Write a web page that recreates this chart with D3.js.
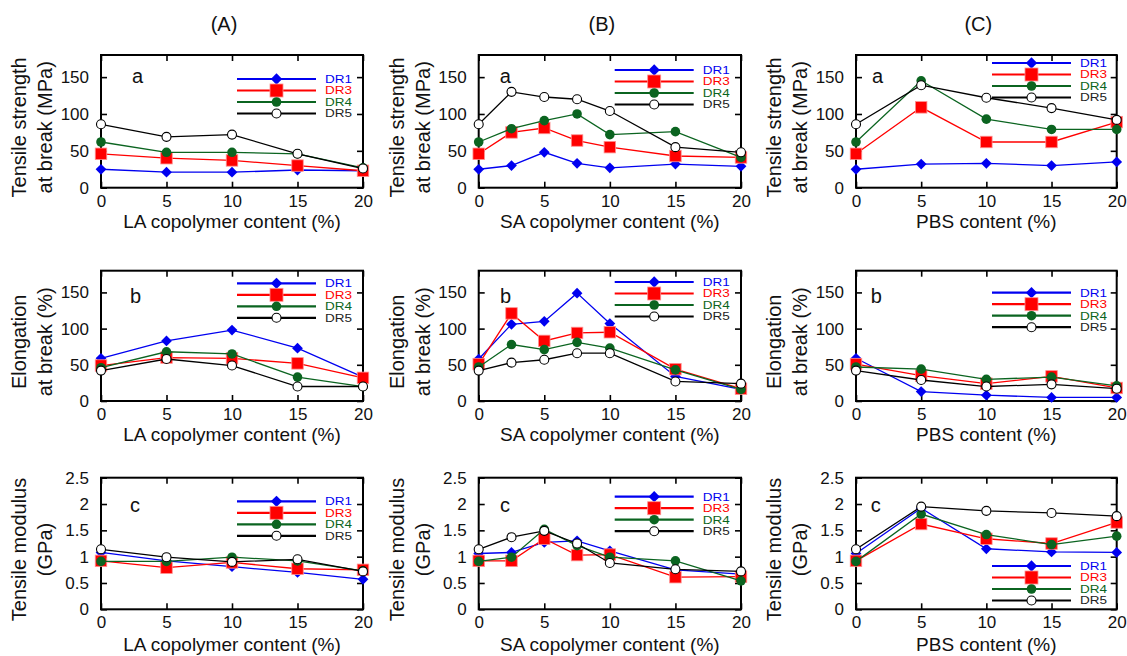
<!DOCTYPE html>
<html>
<head>
<meta charset="utf-8">
<script src="https://cdn.jsdelivr.net/npm/d3@7"></script>
<style>
  body { margin: 0; background: #fff; }
  svg { display: block; font-family: "Liberation Sans", Arial, Helvetica, sans-serif; }
</style>
</head>
<body>
<svg id="chart"></svg>
<script>
const width = 1127;
const height = 656;

// data
const seriesNames = ['DR1', 'DR3', 'DR4', 'DR5'];
const xLA = [0, 5, 10, 15, 20];
const xSA = [0, 2.5, 5, 7.5, 10, 15, 20];
const xPBS = [0, 5, 10, 15, 20];
const xTicks = [0, 5, 10, 15, 20];
const strengthTicks = [0, 50, 100, 150];
const elongTicks = [0, 50, 100, 150];
const modulusTicks = [0, 0.5, 1, 1.5, 2, 2.5];

const colTitles = ['(A)', '(B)', '(C)'];
const xTitles = ['LA copolymer content (%)', 'SA copolymer content (%)', 'PBS content (%)'];
const yTitles = [['Tensile strength', 'at break (MPa)'], ['Elongation', 'at break (%)'], ['Tensile modulus', '(GPa)']];
const panelLetters = ['a', 'b', 'c'];

const strengthLA = [[25, 21, 21, 24, 23], [46, 40, 37, 30, 23], [62, 48, 48, 46, 27], [86, 69, 72, 46, 26]];
const strengthSA = [[25, 30, 48, 33, 27, 32, 29], [46, 75, 81, 64, 55, 43, 41], [62, 80, 91, 100, 72, 76, 41], [86, 130, 123, 120, 104, 55, 48]];
const strengthPBS = [[25, 32, 33, 30, 35], [46, 109, 62, 62, 89], [62, 145, 93, 79, 79], [86, 139, 122, 108, 92]];

const elongLA = [[59, 83, 98, 73, 33], [49, 60, 59, 52, 32], [46, 68, 65, 33, 20], [42, 58, 49, 20, 20]];
const elongSA = [[58, 106, 110, 149, 107, 34, 16], [51, 121, 83, 94, 95, 44, 17], [47, 78, 71, 81, 73, 43, 16], [42, 53, 57, 66, 66, 27, 24]];
const elongPBS = [[59, 13, 8, 5, 5], [51, 35, 24, 34, 18], [47, 44, 30, 33, 21], [42, 29, 20, 23, 17]];

const modulusLA = [[1.08, 0.92, 0.81, 0.70, 0.57], [0.92, 0.79, 0.89, 0.77, 0.75], [0.91, 0.91, 0.99, 0.92, 0.73], [1.14, 0.99, 0.90, 0.95, 0.72]];
const modulusSA = [[1.06, 1.08, 1.27, 1.30, 1.11, 0.75, 0.67], [0.92, 0.92, 1.34, 1.03, 1.04, 0.61, 0.62], [0.91, 0.99, 1.52, 1.21, 0.99, 0.92, 0.54], [1.14, 1.37, 1.49, 1.25, 0.88, 0.76, 0.72]];
const modulusPBS = [[1.06, 1.92, 1.15, 1.09, 1.08], [0.92, 1.62, 1.34, 1.25, 1.65], [0.91, 1.81, 1.42, 1.23, 1.39], [1.14, 1.95, 1.87, 1.83, 1.77]];

// layout
const colLeft = [101, 478.7, 856];
const colRight = [363, 741, 1116.7];
const rowTop = [55, 270.7, 477.7];
const rowBottom = [187.7, 401, 609.3];
const yMax = [180, 180, 2.5];
const yTickSets = [strengthTicks, elongTicks, modulusTicks];
const xSets = [xLA, xSA, xPBS];
const valueSets = [
  [strengthLA, strengthSA, strengthPBS],
  [elongLA, elongSA, elongPBS],
  [modulusLA, modulusSA, modulusPBS]
];
// letter offset [dx, dy] and legend first-row offset from panel top
const letterPos = [
  [[31, 28.3], [21, 28.3], [16, 28.3]],
  [[29, 32.6], [21.3, 32.6], [14.7, 32.6]],
  [[29, 34], [21.3, 34], [14.7, 34.5]]
];
const legendTop = [
  [24, 15, 8],
  [12.6, 11.3, 22],
  [23.6, 19, 88.3]
];

const colors = ['#0000f0', '#ff0000', '#0b6420', '#000000'];
const fontTick = 17;

const svg = d3.select('#chart')
  .attr('width', width)
  .attr('height', height);

svg.append('rect')
  .attr('width', width)
  .attr('height', height)
  .style('fill', '#fff');

function marker(g, i, cx, cy, legend) {
  if (i === 0) {
    g.append('path')
      .attr('d', d3.symbol().type(d3.symbolSquare).size(legend ? 64 : 58)())
      .attr('transform', `translate(${cx},${cy}) rotate(45)`)
      .style('fill', colors[0]);
  } else if (i === 1) {
    const s = legend ? 13 : 11.5;
    g.append('rect')
      .attr('x', cx - s / 2).attr('y', cy - s / 2)
      .attr('width', s).attr('height', s)
      .style('fill', colors[1])
      .style('stroke', '#ff9090')
      .style('stroke-width', 0.8);
  } else if (i === 2) {
    g.append('circle')
      .attr('cx', cx).attr('cy', cy).attr('r', 4.8)
      .style('fill', colors[2]);
  } else {
    g.append('circle')
      .attr('cx', cx).attr('cy', cy).attr('r', 4.5)
      .style('fill', '#fff')
      .style('stroke', '#000')
      .style('stroke-width', 1.1);
  }
}

for (let r = 0; r < 3; r++) {
  for (let c = 0; c < 3; c++) {
    const left = colLeft[c], right = colRight[c];
    const top = rowTop[r], bottom = rowBottom[r];

    const x = d3.scaleLinear().domain([0, 20]).range([left, right]);
    const y = d3.scaleLinear().domain([0, yMax[r]]).range([bottom, top]);

    const g = svg.append('g');

    // axes with inward ticks, mirrored
    g.append('g').attr('transform', `translate(0,${bottom})`)
      .call(d3.axisBottom(x).tickValues(xTicks).tickSizeInner(-6).tickSizeOuter(0).tickPadding(7).tickFormat(d => d));
    g.append('g').attr('transform', `translate(${left},0)`)
      .call(d3.axisLeft(y).tickValues(yTickSets[r]).tickSizeInner(-6).tickSizeOuter(0).tickPadding(12).tickFormat(d => d));
    g.append('g').attr('transform', `translate(0,${top})`)
      .call(d3.axisTop(x).tickValues(xTicks).tickSizeInner(-6).tickSizeOuter(0).tickFormat(''));
    g.append('g').attr('transform', `translate(${right},0)`)
      .call(d3.axisRight(y).tickValues(yTickSets[r]).tickSizeInner(-6).tickSizeOuter(0).tickFormat(''));

    g.selectAll('.domain').remove();
    g.selectAll('.tick line').style('stroke', '#000').style('stroke-width', 1.6);
    g.selectAll('.tick text').style('font-size', fontTick + 'px').style('fill', '#111');
    g.selectAll('g').attr('font-family', null).attr('font-size', null);

    g.append('rect')
      .attr('x', left).attr('y', top)
      .attr('width', right - left).attr('height', bottom - top)
      .style('fill', 'none')
      .style('stroke', '#000')
      .style('stroke-width', 2);

    // series
    const xs = xSets[c];
    const vals = valueSets[r][c];
    const line = d3.line().x(d => x(d[0])).y(d => y(d[1]));
    vals.forEach((arr, i) => {
      const pts = arr.map((v, k) => [xs[k], v]);
      g.append('path')
        .datum(pts)
        .attr('d', line)
        .style('fill', 'none')
        .style('stroke', colors[i])
        .style('stroke-width', 1.3);
      pts.forEach(p => marker(g, i, x(p[0]), y(p[1]), false));
    });

    // legend
    seriesNames.forEach((name, i) => {
      const ly = top + legendTop[r][c] + i * 11.5;
      g.append('line')
        .attr('x1', left + 136).attr('x2', left + 215)
        .attr('y1', ly).attr('y2', ly)
        .style('stroke', colors[i])
        .style('stroke-width', 2.2);
      marker(g, i, left + 175.5, ly, true);
      g.append('text')
        .attr('x', left + 224).attr('y', ly)
        .attr('dy', '0.36em')
        .attr('textLength', 27)
        .attr('lengthAdjust', 'spacingAndGlyphs')
        .style('font-size', '11px')
        .style('fill', i === 3 ? '#222' : colors[i])
        .text(name);
    });

    // panel letter
    g.append('text')
      .attr('x', left + letterPos[r][c][0])
      .attr('y', top + letterPos[r][c][1])
      .style('font-size', '20px')
      .style('fill', '#111')
      .text(panelLetters[r]);

    // x title
    g.append('text')
      .attr('x', (left + right) / 2)
      .attr('y', bottom + (r === 2 ? 42 : 40))
      .attr('text-anchor', 'middle')
      .style('font-size', '19px')
      .style('fill', '#111')
      .text(xTitles[c]);

    // y title, two lines
    const cy = (top + bottom) / 2 + 6;
    yTitles[r].forEach((t, k) => {
      g.append('text')
        .attr('transform', `translate(${left - 75 + k * 26},${cy}) rotate(-90)`)
        .attr('text-anchor', 'middle')
        .style('font-size', '20px')
        .style('fill', '#111')
        .text(t);
    });
  }
}

// column titles
colTitles.forEach((t, c) => {
  svg.append('text')
    .attr('x', (colLeft[c] + colRight[c]) / 2 - 8)
    .attr('y', 31)
    .attr('text-anchor', 'middle')
    .style('font-size', '20px')
    .style('fill', '#111')
    .text(t);
});
</script>
</body>
</html>
